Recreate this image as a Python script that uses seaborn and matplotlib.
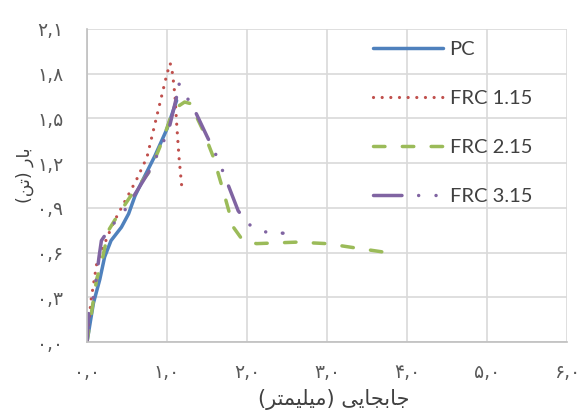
import matplotlib
matplotlib.use("Agg")
import matplotlib.pyplot as plt
import seaborn as sns
import pandas as pd

# ---- data ----
pc_x = [0, 0.08, 0.16, 0.22, 0.30, 0.43, 0.52, 0.60, 0.70, 0.85, 1.00, 1.12]
pc_y = [0, 0.26, 0.42, 0.57, 0.68, 0.77, 0.86, 0.98, 1.09, 1.25, 1.43, 1.62]

frc1_x = [0, 0.05, 0.12, 0.22, 0.33, 0.45, 0.62, 0.75, 0.87, 1.00, 1.04, 1.07, 1.10, 1.12, 1.15, 1.19]
frc1_y = [0, 0.28, 0.52, 0.66, 0.80, 0.92, 1.09, 1.24, 1.51, 1.80, 1.87, 1.80, 1.65, 1.47, 1.24, 1.01]

frc2_x = [0, 0.06, 0.12, 0.18, 0.27, 0.35, 0.54, 0.79, 0.95, 1.08, 1.22, 1.29, 1.45, 1.58, 1.70, 1.83, 1.95, 2.12, 2.62, 3.00, 3.37, 3.75]
frc2_y = [0, 0.21, 0.42, 0.53, 0.75, 0.82, 0.975, 1.15, 1.36, 1.56, 1.61, 1.60, 1.42, 1.24, 1.02, 0.77, 0.68, 0.66, 0.67, 0.66, 0.63, 0.60]

frc3_x = [0, 0.02, 0.08, 0.12, 0.15, 0.18, 0.23, 0.37, 0.48, 0.58, 0.77, 0.90, 1.02, 1.12, 1.14, 1.25, 1.35, 1.50, 1.60, 1.68, 1.89, 2.02, 2.20, 2.45]
frc3_y = [0, 0.19, 0.30, 0.44, 0.57, 0.68, 0.72, 0.82, 0.89, 0.975, 1.14, 1.28, 1.42, 1.645, 1.74, 1.64, 1.55, 1.38, 1.27, 1.17, 0.88, 0.79, 0.74, 0.73]

series_names = ["PC", "FRC 1.15", "FRC 2.15", "FRC 3.15"]

x_ticks = [0, 1, 2, 3, 4, 5, 6]
x_tick_labels = ["۰,۰", "۱,۰", "۲,۰", "۳,۰", "۴,۰", "۵,۰", "۶,۰"]
y_ticks = [0, 0.3, 0.6, 0.9, 1.2, 1.5, 1.8, 2.1]
y_tick_labels = ["۰,۰", "۰,۳", "۰,۶", "۰,۹", "۱,۲", "۱,۵", "۱,۸", "۲,۱"]

# Persian labels in visual (shaped, left-to-right) order
x_label = "(ﺮﺘﻤﯿﻠﯿﻣ) ﯽﯾﺎﺠﺑﺎﺟ"   # جابجایی (میلیمتر)
y_label = "(ﻦﺗ) ﺭﺎﺑ"            # بار (تن)

# ---- styling ----
sns.set_theme(style="white")
plt.rcParams["font.family"] = ["DejaVu Sans"]

fig = plt.figure(figsize=(5.85, 4.12), dpi=100)
ax = fig.add_axes([87 / 585, 1 - 342 / 412, (567 - 87) / 585, (342 - 29) / 412])

lw = 2.5
styles = [
    dict(color="#4F81BD", linestyle="-", solid_capstyle="round"),
    dict(color="#C0504D", linestyle=(0, (0.01, 2.7)), dash_capstyle="round", linewidth=2.3),
    dict(color="#9BBB59", linestyle=(0, (3.3, 5.0)), dash_capstyle="round"),
    dict(color="#8064A2", linestyle=(0, (8.2, 4.8, 0.01, 5.0, 0.01, 4.8)), dash_capstyle="round"),
]
xs = [pc_x, frc1_x, frc2_x, frc3_x]
ys = [pc_y, frc1_y, frc2_y, frc3_y]

for name, x, y, st in zip(series_names, xs, ys, styles):
    df = pd.DataFrame({"x": x, "y": y})
    kw = dict(linewidth=lw)
    kw.update(st)
    sns.lineplot(data=df, x="x", y="y", ax=ax, sort=False, estimator=None,
                 label=name, **kw)

ax.set_xlim(0, 6)
ax.set_ylim(0, 2.1)
ax.set_xticks(x_ticks)
ax.set_xticklabels(x_tick_labels)
ax.set_yticks(y_ticks)
ax.set_yticklabels(y_tick_labels)
ax.grid(True, color="#D9D9D9", linewidth=1.2)
ax.set_axisbelow(True)
for s in ["top", "right"]:
    ax.spines[s].set_visible(False)
for s in ["left", "bottom"]:
    ax.spines[s].set_color("#BFBFBF")
    ax.spines[s].set_linewidth(1.2)
ax.tick_params(axis="both", length=0, colors="#595959", labelsize=13.5)
ax.tick_params(axis="y", pad=17)
ax.tick_params(axis="x", pad=15)

ax.set_xlabel(x_label, fontsize=15, color="#404040")
ax.set_ylabel(y_label, fontsize=12.5, color="#404040")
ax.xaxis.set_label_coords((334 - 87) / 480, (342 - 389) / 313)
ax.yaxis.set_label_coords((34 - 87) / 480, (342 - 175) / 313)

leg = ax.legend(loc="upper left", bbox_to_anchor=(373 / 585, 1 - 41 / 412),
                bbox_transform=fig.transFigure, frameon=False, borderpad=0,
                borderaxespad=0, handlelength=3.5, handletextpad=0.3,
                labelspacing=1.58, prop={"family": "Lato", "size": 14.5})
for t in leg.get_texts():
    t.set_color("#404040")

fig.savefig("out.png", dpi=100)
